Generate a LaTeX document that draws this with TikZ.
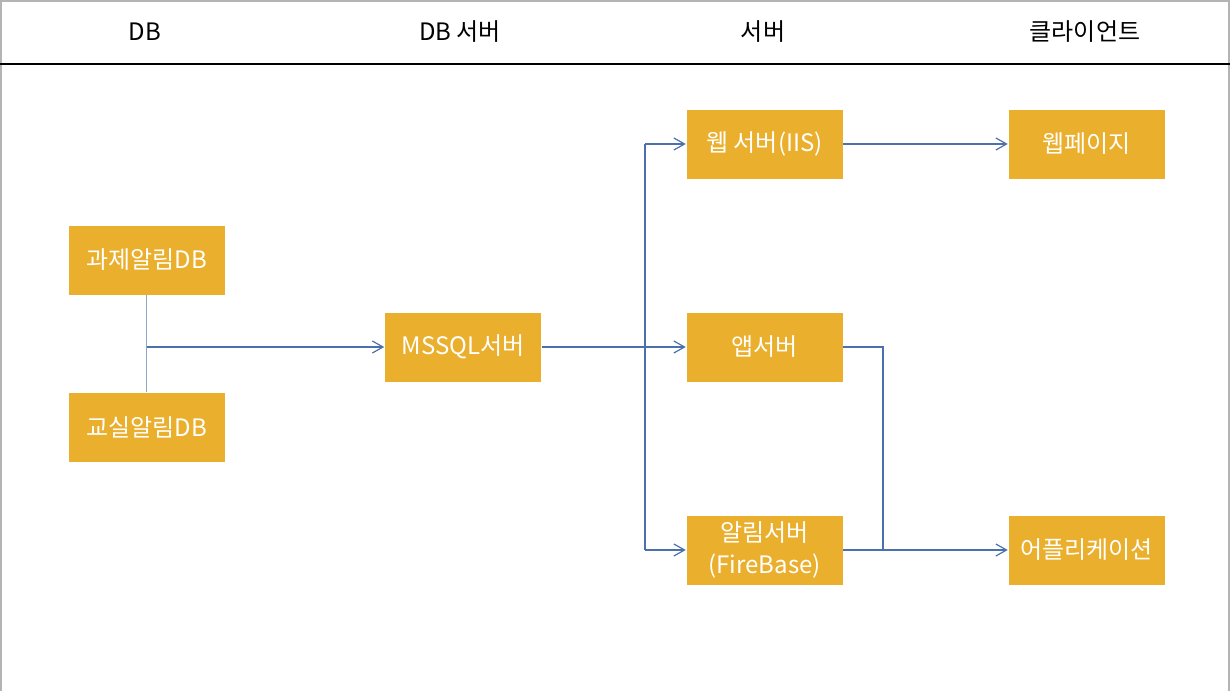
\documentclass[tikz,border=0pt]{standalone}
\usepackage{fontspec}
\setmainfont{Noto Sans CJK KR}
\usetikzlibrary{arrows.meta}
\definecolor{boxorange}{HTML}{EAAF2C}
\definecolor{linkblue}{HTML}{4A70AE}
\definecolor{softblue}{HTML}{8AA6C8}
\definecolor{framegray}{HTML}{B4B4B4}

\begin{document}
\begin{tikzpicture}
    [%%%%%%%%%%%%%%%%%%%%%%%%%%%%%%
        x=0.75pt,y=-0.75pt,
        every node/.style={font=\fontsize{18pt}{24pt}\selectfont},
        box/.style={rectangle,draw=white,fill=boxorange,text=white,inner sep=0pt,
            minimum width=117.75pt,minimum height=52.5pt,align=center},
        header/.style={text=black},
        link/.style={draw=linkblue,line width=0.9pt},
        flow/.style={link,-{Straight Barb[length=8pt,width=9pt,line width=0.9pt]}},
    ]%%%%%%%%%%%%%%%%%%%%%%%%%%%%%%

\useasboundingbox (0,0) rectangle (1230,691);

% frame and header
\draw[framegray,line width=1.2pt] (1,691) -- (1,1) -- (1229,1) -- (1229,691);
\draw[black,line width=0.9pt] (0,64) -- (1230,64);

\node[header] (hdb) at (145,32) {DB};
\node[header] (hdbserver) at (460,32) {DB 서버};
\node[header] (hserver) at (763,32) {서버};
\node[header] (hclient) at (1085,32) {클라이언트};

% boxes
\node[box] (taskdb) at (146.5,260) {과제알림DB};
\node[box] (roomdb) at (146.5,427) {교실알림DB};
\node[box] (mssql) at (463,347) {MSSQL서버};
\node[box] (web) at (764.5,144) {웹 서버(IIS)};
\node[box] (app) at (764.5,347) {앱서버};
\node[box] (alarm) at (764.5,550) {알림서버\\(FireBase)};
\node[box] (webpage) at (1086.5,144) {웹페이지};
\node[box] (mobile) at (1086.5,550) {어플리케이션};

\coordinate (dbjoin) at (taskdb.south |- mssql.west);
\coordinate (webturn) at (645,144);
\coordinate (alarmturn) at (645,550);
\coordinate (merge) at (883,550);

% connectors
\draw[softblue,line width=0.9pt] (taskdb.south) -- (roomdb.north);
\draw[flow] (dbjoin) -- (mssql.west);
\draw[flow] (mssql.east) -- (app.west);
\draw[link] (webturn) -- (alarmturn);
\draw[flow] (webturn) -- (web.west);
\draw[flow] (alarmturn) -- (alarm.west);
\draw[flow] (web.east) -- (webpage.west);
\draw[link] (app.east) -| (merge);
\draw[flow] (alarm.east) -- (mobile.west);
\end{tikzpicture}
\end{document}
